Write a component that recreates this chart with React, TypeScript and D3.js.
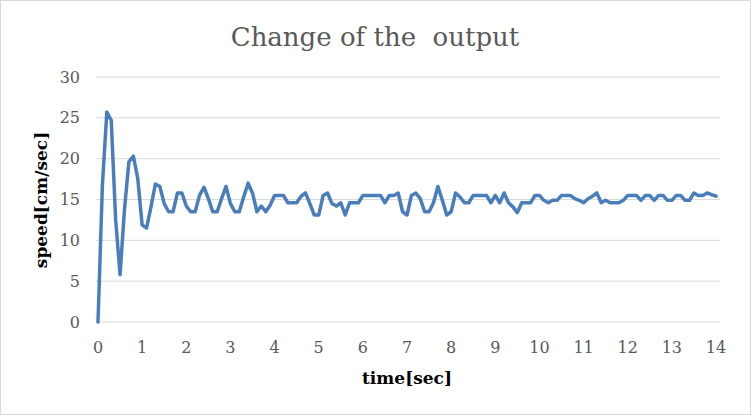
import React from "react";
import * as d3 from "d3";

const timeStep = 0.1;
const speedValues: number[] = [
  0, 16.8, 25.7, 24.7, 12.5, 5.8, 13.8, 19.6, 20.3, 17.6,
  11.9, 11.5, 14.1, 16.9, 16.6, 14.5, 13.5, 13.5, 15.8, 15.8,
  14.2, 13.5, 13.5, 15.5, 16.5, 15.1, 13.5, 13.5, 15.1, 16.6,
  14.5, 13.5, 13.5, 15.3, 17.0, 15.8, 13.5, 14.2, 13.5, 14.3,
  15.5, 15.5, 15.5, 14.6, 14.6, 14.6, 15.4, 15.8, 14.5, 13.1,
  13.1, 15.5, 15.8, 14.5, 14.2, 14.6, 13.1, 14.6, 14.6, 14.6,
  15.5, 15.5, 15.5, 15.5, 15.5, 14.6, 15.5, 15.5, 15.8, 13.5,
  13.1, 15.5, 15.8, 15.1, 13.5, 13.5, 14.6, 16.6, 14.9, 13.1,
  13.5, 15.8, 15.3, 14.6, 14.6, 15.5, 15.5, 15.5, 15.5, 14.6,
  15.5, 14.6, 15.8, 14.6, 14.1, 13.4, 14.6, 14.6, 14.6, 15.5,
  15.5, 14.9, 14.6, 14.9, 14.9, 15.5, 15.5, 15.5, 15.1, 14.9,
  14.6, 15.1, 15.4, 15.8, 14.6, 14.9, 14.6, 14.6, 14.6, 14.9,
  15.5, 15.5, 15.5, 14.9, 15.5, 15.5, 14.9, 15.5, 15.5, 14.9,
  14.9, 15.5, 15.5, 14.9, 14.9, 15.8, 15.5, 15.5, 15.8, 15.6,
  15.4,
];
const xTicks: number[] = d3.range(0, 15, 1);
const yTicks: number[] = [0, 5, 10, 15, 20, 25, 30];
const title = "Change of the\u00a0 output";
const xTitle = "time[sec]";
const yTitle = "speed[cm/sec]";

const W = 751;
const H = 415;

export default function App() {
  const x = d3.scaleLinear().domain([0, 14]).range([98, 716]);
  const y = d3.scaleLinear().domain([0, 30]).range([322, 77]);
  const points = speedValues.map((v, i) => [i * timeStep, v] as [number, number]);
  const line = d3
    .line<[number, number]>()
    .x((d) => x(d[0]))
    .y((d) => y(d[1]));
  const gx0 = x(0) - 2;
  const gx1 = x(14) + 4;
  const serif = "'DejaVu Serif', serif";
  return (
    <svg
      width={W}
      height={H}
      style={{ position: "absolute", left: 0, top: 0, background: "#fff" }}
    >
      <rect x={0.5} y={0.5} width={W - 1} height={H - 1} fill="#fff" stroke="#d9d9d9" />
      <text
        x={375}
        y={46}
        textAnchor="middle"
        fontFamily={serif}
        fontSize={26}
        fill="#595959"
      >
        {title}
      </text>
      {yTicks.map((t) => (
        <g key={t}>
          <line x1={gx0} x2={gx1} y1={y(t)} y2={y(t)} stroke="#d9d9d9" strokeWidth={1} />
          <text
            x={80}
            y={y(t)}
            dy="0.35em"
            textAnchor="end"
            fontFamily={serif}
            fontSize={16}
            fill="#595959"
          >
            {t}
          </text>
        </g>
      ))}
      {xTicks.map((t) => (
        <text
          key={t}
          x={x(t)}
          y={353}
          textAnchor="middle"
          fontFamily={serif}
          fontSize={16}
          fill="#595959"
        >
          {t}
        </text>
      ))}
      <path
        d={line(points) || ""}
        fill="none"
        stroke="#4a7ebb"
        strokeWidth={3.5}
        strokeLinejoin="round"
        strokeLinecap="round"
      />
      <text
        x={407}
        y={384}
        textAnchor="middle"
        fontFamily={serif}
        fontWeight="bold"
        fontSize={17}
        fill="#000"
      >
        {xTitle}
      </text>
      <text
        transform={`translate(47, 200) rotate(-90)`}
        textAnchor="middle"
        fontFamily={serif}
        fontWeight="bold"
        fontSize={17}
        fill="#000"
      >
        {yTitle}
      </text>
    </svg>
  );
}
